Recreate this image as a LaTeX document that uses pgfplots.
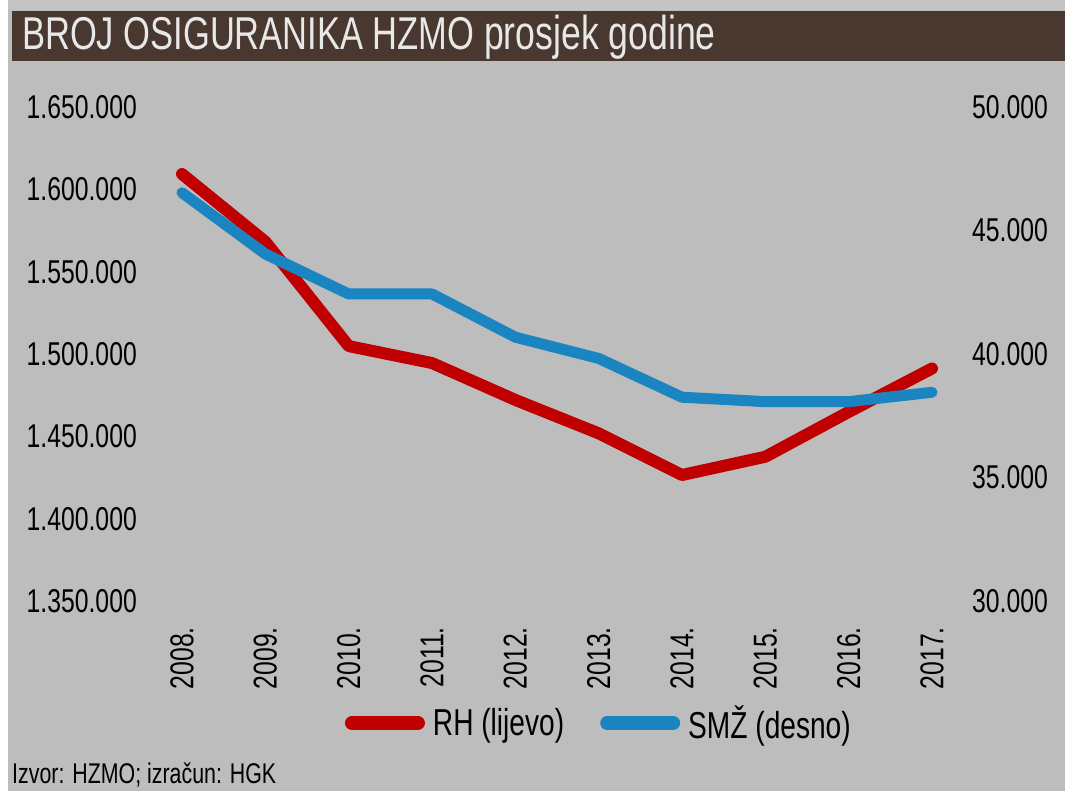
\documentclass[border=0pt]{standalone}
\usepackage{pgfplots}
\pgfplotsset{compat=1.18}
\usepackage{fontspec}
\setmainfont[FakeStretch=0.75]{Liberation Sans}
\definecolor{bg}{HTML}{BDBDBD}
\definecolor{topband}{HTML}{C4C4C4}
\definecolor{titlebg}{HTML}{483830}
\definecolor{titletext}{HTML}{E8E8E8}
\definecolor{rhred}{HTML}{C00000}
\definecolor{smzblue}{HTML}{1A85C0}

\pgfplotstableread{
year rh
2008 1609300
2009 1568200
2010 1504800
2011 1494500
2012 1472100
2013 1451800
2014 1426500
2015 1437600
2016 1464800
2017 1491200
}\rhdata

\pgfplotstableread{
year smz
2008 46530
2009 44050
2010 42430
2011 42430
2012 40680
2013 39820
2014 38250
2015 38070
2016 38070
2017 38450
}\smzdata

\begin{document}
\begin{tikzpicture}[x=1pt,y=1pt]
\useasboundingbox (0,0) rectangle (1065,791);
\fill[white] (0,0) rectangle (1065,791);
\fill[bg] (8,0) rectangle (1065,781);
\fill[topband] (8,781) rectangle (1065,791);
\fill[titlebg] (12,730) rectangle (1065,780);
\node[anchor=base west, inner sep=0pt, text=titletext, font=\fontsize{46}{50}\selectfont] at (22,741) {BROJ OSIGURANIKA HZMO {\fontsize{47.5}{50}\selectfont prosjek godine}};
\node[anchor=west, inner sep=0pt, text=black, font=\fontsize{28.5}{32}\selectfont] at (12,16) {Izvor: HZMO; izračun: HGK};

\begin{axis}[
  at={(182pt,190pt)}, anchor=south west,
  scale only axis, width=750pt, height=494pt,
  xmin=2008, xmax=2017, ymin=1350000, ymax=1650000,
  scaled y ticks=false,
  clip=false,
  axis line style={draw=none},
  major tick length=0pt,
  xtick={2008,2009,2010,2011,2012,2013,2014,2015,2016,2017},
  xticklabels={2008.,2009.,2010.,2011.,2012.,2013.,2014.,2015.,2016.,2017.},
  ytick={1350000,1400000,1450000,1500000,1550000,1600000,1650000},
  yticklabels={1.350.000,1.400.000,1.450.000,1.500.000,1.550.000,1.600.000,1.650.000},
  tick label style={font=\fontsize{33}{36}\selectfont, text=black},
  yticklabel style={anchor=east, inner sep=0pt, xshift=-45pt},
  xticklabel style={rotate=90, anchor=east, inner sep=0pt},
  xticklabel shift=26pt,
  legend columns=2,
  legend style={at={(0.1693,-0.247)}, anchor=west, draw=none, fill=none,
    inner sep=0pt, outer sep=0pt, column sep=0pt,
    font=\fontsize{37.5}{40}\selectfont,
    nodes={inner sep=0pt}},
  legend image code/.code={\path[draw=none, fill=none] (-36pt,0pt) -- (88pt,0pt); \draw[#1, line width=14pt, line cap=round] (7pt,0pt) -- (73pt,0pt);},
]
\addplot[rhred, line width=12pt, line cap=round, line join=round] table[x=year, y=rh] {\rhdata};
\addlegendentry{RH (lijevo)}
\addlegendimage{smzblue}
\addlegendentry{SMŽ (desno)}
\end{axis}

\begin{axis}[
  at={(182pt,190pt)}, anchor=south west,
  scale only axis, width=750pt, height=494pt,
  xmin=2008, xmax=2017, ymin=30000, ymax=50000,
  scaled y ticks=false,
  clip=false,
  hide x axis,
  axis y line*=right,
  axis line style={draw=none},
  major tick length=0pt,
  ytick={30000,35000,40000,45000,50000},
  yticklabels={30.000,35.000,40.000,45.000,50.000},
  tick label style={font=\fontsize{33}{36}\selectfont, text=black},
  yticklabel style={anchor=west, inner sep=0pt, xshift=40pt},
]
\addplot[smzblue, line width=11pt, line cap=round, line join=round] table[x=year, y=smz] {\smzdata};
\end{axis}
\end{tikzpicture}
\end{document}
